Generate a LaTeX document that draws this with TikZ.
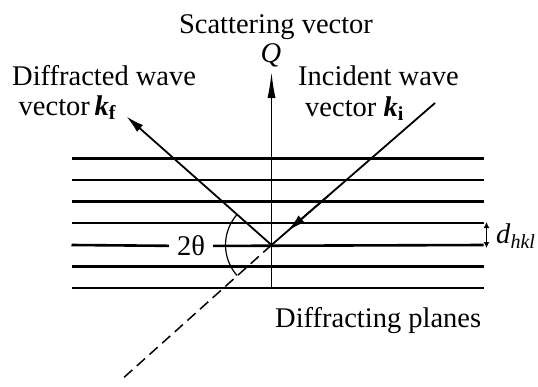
\documentclass[tikz,border=0pt]{standalone}
\usepackage{fontspec}
\setmainfont{Liberation Serif}
\usepackage{tikz}
\usetikzlibrary{arrows.meta,calc}
\newcommand{\drawplane}{\draw[line width=2.6pt]}
\newcommand{\lowsub}[1]{\raisebox{-0.35ex}{\fontsize{20}{20}\selectfont #1}}
\tikzset{
  vec/.style={line width=1.8pt,-{Latex[length=18pt,width=9pt]}},
  ray/.style={line width=1.8pt},
  lbl/.style={font=\fontsize{28.5}{30}\selectfont,inner sep=0pt}
}

\begin{document}
\begin{tikzpicture}[x=1pt,y=-1pt]
\useasboundingbox (0,0) rectangle (538,386);
\coordinate (O) at (271.5,245);
\coordinate (ki) at (435,103);
\coordinate (kf) at (126.5,116.5);
\coordinate (dashend) at (120,381);
\coordinate (qtip) at (271.5,72);
\coordinate (qfoot) at (271.5,288);
\coordinate (pl) at (71.5,245);
\coordinate (pr) at (483.5,245);
\coordinate (dtop) at (486.5,222);
\coordinate (dbot) at (486.5,248);
\foreach \y in {158.5,180,201.5,223,266.5,288}{
  \drawplane (71.5,\y)--(483.5,\y);
}
\node[lbl,inner xsep=8pt] (twotheta) at (191,246) {2θ};
\drawplane (pl) -- (twotheta);
\drawplane (twotheta) -- (pr);
\draw[line width=1.4pt,-{Latex[length=26pt,width=8pt]}] (qfoot) -- (qtip);
\draw[vec] (O) -- (kf);
\draw[ray] (ki) -- (O);
\draw[vec] ($(O)!0.35!(ki)$) -- ($(O)!0.1!(ki)$);
\draw[line width=1.5pt,dash pattern=on 11pt off 6pt] (O) -- (dashend);
\draw[line width=1.2pt] ($(O)+(138.5:46)$) arc[start angle=138.5,end angle=221.5,radius=46];
\draw[line width=1.3pt,{Latex[length=6pt,width=6pt]}-{Latex[length=6pt,width=6pt]}] (dtop) -- (dbot);
\node[lbl,anchor=base] (scat) at (276,33) {Scattering vector};
\node[lbl] (Q) at (271,55) {\textit{Q}};
\node[lbl,anchor=base west] (diffr) at (12,85) {Diffracted wave};
\node[lbl,anchor=base west] (kflabel) at (18.5,115) {vector\,\textbf{\textit{k}}\lowsub{\textbf{f}}};
\node[lbl,anchor=base west] (incid) at (298,85) {Incident wave};
\node[lbl,anchor=base west] (kilabel) at (305,116) {vector \textbf{\textit{k}}\lowsub{\textbf{i}}};
\node[lbl,anchor=base west] (planes) at (275,327) {Diffracting planes};
\node[lbl,anchor=west] (dhkl) at (496,236) {\textit{d}\lowsub{\textit{hkl}}};
\end{tikzpicture}
\end{document}
